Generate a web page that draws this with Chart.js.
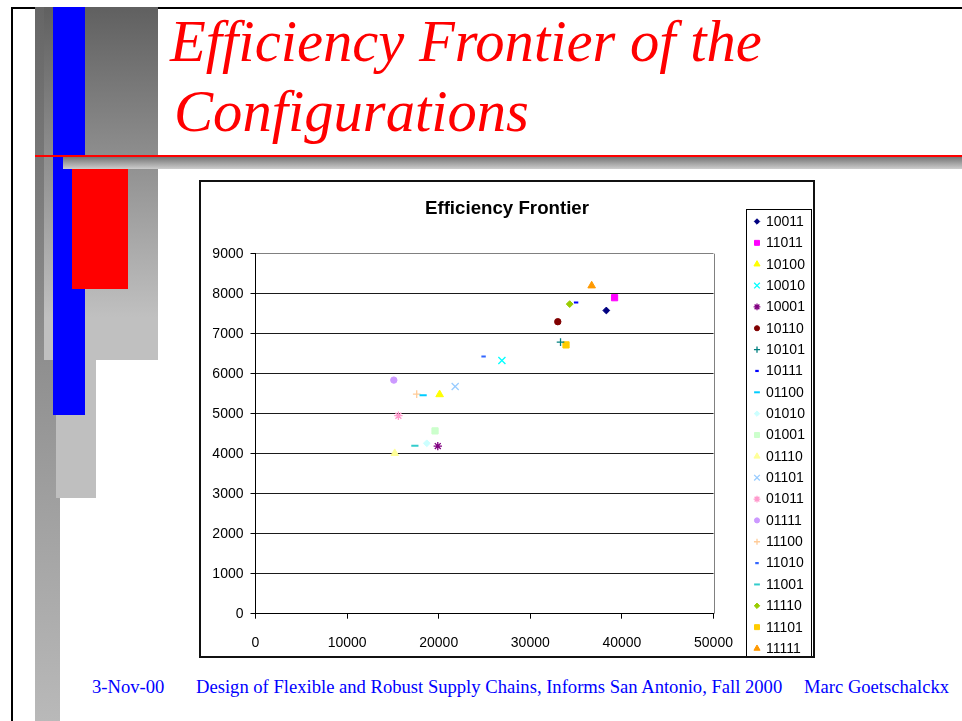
<!DOCTYPE html>
<html>
<head>
<meta charset="utf-8">
<script src="https://cdn.jsdelivr.net/npm/chart.js@4.4.1/dist/chart.umd.min.js"></script>
<style>
  html, body { margin: 0; padding: 0; background: #fff; }
  body { width: 962px; height: 721px; position: relative; overflow: hidden; }
  .abs { position: absolute; }
  .title { position: absolute; font-family: "Liberation Serif", "Times New Roman", serif; font-style: italic;
           color: #ff0000; font-size: 58.6px; line-height: 70px; white-space: nowrap; }
  .foot { position: absolute; font-family: "Liberation Serif", "Times New Roman", serif; color: #0000ff;
          font-size: 18.6px; line-height: 18px; white-space: nowrap; top: 678px; }
  #chartBox { position: absolute; left: 199px; top: 180px; width: 612px; height: 474px;
              border: 2px solid #111; background: #fff; }
  #chartBox canvas { display: block; }
</style>
</head>
<body>
<!-- slide frame and decoration -->
<div class="abs" style="left:11px;top:7px;width:951px;height:2px;background:#000"></div>
<div class="abs" style="left:11px;top:7px;width:2px;height:714px;background:#000"></div>
<div class="abs" style="left:35px;top:7px;width:25px;height:714px;background:linear-gradient(#666666,#b9b9b9)"></div>
<div class="abs" style="left:44px;top:7px;width:114px;height:353px;background:linear-gradient(#606060 0%,#c0c0c0 88%,#c0c0c0 100%)"></div>
<div class="abs" style="left:56px;top:360px;width:40px;height:138px;background:#bfbfbf"></div>
<div class="abs" style="left:53px;top:7px;width:32px;height:408px;background:#0000ff"></div>
<div class="abs" style="left:63px;top:156px;width:899px;height:13px;background:linear-gradient(#6e6e6e,#cdcdcd)"></div>
<div class="abs" style="left:72px;top:169px;width:56px;height:120px;background:#ff0000"></div>
<div class="abs" style="left:35px;top:155px;width:927px;height:1.5px;background:#ff0000"></div>

<div class="title" style="left:170px;top:7px">Efficiency Frontier of the</div>
<div class="title" style="left:174px;top:77px">Configurations</div>

<div id="chartBox"><canvas id="c" width="612" height="474"></canvas></div>

<div class="foot" style="left:92px">3-Nov-00</div>
<div class="foot" style="left:196px">Design of Flexible and Robust Supply Chains, Informs San Antonio, Fall 2000</div>
<div class="foot" style="left:804px">Marc Goetschalckx</div>

<script>
// ---- data ----
const chartTitle = "Efficiency Frontier";
const configurations = ["10011","11011","10100","10010","10001","10110","10101","10111","01100","01010",
                        "01001","01110","01101","01011","01111","11100","11010","11001","11110","11101","11111"];
const costValues  = [38300, 39200, 20100, 26900, 19900, 33000, 33300, 35000, 18300, 18700,
                     19600, 15200, 21800, 15600, 15100, 17600, 24900, 17400, 34300, 33900, 36700];
const valueValues = [7580, 7900, 5480, 6330, 4190, 7300, 6790, 7780, 5460, 4260,
                     4570, 4010, 5680, 4950, 5840, 5490, 6430, 4200, 7740, 6720, 8200];
const xTicks = [0, 10000, 20000, 30000, 40000, 50000];
const yTicks = [0, 1000, 2000, 3000, 4000, 5000, 6000, 7000, 8000, 9000];

// ---- styles ----
const markerColors = ["#000080","#ff00ff","#ffff00","#00ffff","#800080","#800000","#008080","#0000ff","#00ccff","#ccffff",
                      "#ccffcc","#ffff99","#99ccff","#ff99cc","#cc99ff","#ffcc99","#3366ff","#33cccc","#99cc00","#ffcc00","#ff9900"];
const shapeCycle = ["rectRot","rect","triangle","crossRot","star","circle","cross","shortDash","longDash"];
const shapeStyle = {
  rectRot:   { style: 'rectRot',  r: 3.4, bw: 1 },
  rect:      { style: 'rect',     r: 4.4, bw: 1 },
  triangle:  { style: 'triangle', r: 4.4, bw: 1 },
  crossRot:  { style: 'crossRot', r: 5,   bw: 1.3 },
  star:      { style: 'star',     r: 4.2, bw: 1.3 },
  circle:    { style: 'circle',   r: 3.2, bw: 1 },
  cross:     { style: 'cross',    r: 3.8, bw: 1.3 },
  shortDash: { style: 'line',     r: 2.2, bw: 2.2 },
  longDash:  { style: 'line',     r: 3.6, bw: 2 }
};

const datasets = configurations.map((name, i) => {
  const s = shapeStyle[shapeCycle[i % shapeCycle.length]];
  return {
    label: name,
    data: [{ x: costValues[i], y: valueValues[i] }],
    pointStyle: s.style,
    pointRadius: s.r,
    pointHoverRadius: s.r,
    pointBorderWidth: s.bw,
    backgroundColor: markerColors[i],
    borderColor: markerColors[i],
    showLine: false
  };
});

Chart.defaults.font.family = "'Liberation Sans', Arial, sans-serif";
Chart.defaults.color = "#000";

function drawMarker(ctx, style, r, bw, x, y, color) {
  ctx.save();
  ctx.fillStyle = color; ctx.strokeStyle = color; ctx.lineWidth = bw;
  if (Chart.helpers && Chart.helpers.drawPoint) {
    Chart.helpers.drawPoint(ctx, { pointStyle: style, radius: r, rotation: 0, borderWidth: bw }, x, y);
  }
  ctx.restore();
}

const framePlugin = {
  id: 'frame',
  afterDraw(chart) {
    const ctx = chart.ctx, a = chart.chartArea;
    ctx.save();
    ctx.strokeStyle = '#808080'; ctx.lineWidth = 1;
    ctx.beginPath();
    ctx.moveTo(Math.round(a.right) + 0.5, a.top);
    ctx.lineTo(Math.round(a.right) + 0.5, a.bottom);
    ctx.stroke();
    // chart title, centred on the chart box
    ctx.fillStyle = '#000';
    ctx.font = "bold 18.7px 'Liberation Sans', Arial, sans-serif";
    ctx.textAlign = 'center';
    ctx.textBaseline = 'middle';
    ctx.fillText(chartTitle, 306, 26.5);
    ctx.restore();
  }
};

const legendPlugin = {
  id: 'sideLegend',
  afterDraw(chart) {
    const ctx = chart.ctx;
    const left = 545, top = 27, right = 610, bottom = chart.height + 2;
    ctx.save();
    ctx.strokeStyle = '#000'; ctx.lineWidth = 1;
    ctx.strokeRect(left + 0.5, top + 0.5, right - left, bottom - top);
    ctx.font = "14px 'Liberation Sans', Arial, sans-serif";
    ctx.textBaseline = 'middle';
    ctx.textAlign = 'left';
    chart.data.datasets.forEach((ds, i) => {
      const y = 39.5 + i * 21.35;
      drawMarker(ctx, ds.pointStyle, ds.pointRadius * 0.8, ds.pointBorderWidth, 556, y, ds.borderColor);
      ctx.fillStyle = '#000';
      ctx.fillText(ds.label, 565, y + 0.5);
    });
    ctx.restore();
  }
};

new Chart(document.getElementById('c'), {
  type: 'scatter',
  data: { datasets },
  options: {
    responsive: false,
    animation: false,
    events: [],
    layout: { padding: { left: 0, right: 99.5, top: 71.7, bottom: 0 } },
    plugins: {
      legend: { display: false },
      tooltip: { enabled: false },
      title: { display: false }
    },
    scales: {
      x: {
        type: 'linear',
        min: xTicks[0], max: xTicks[xTicks.length - 1],
        afterBuildTicks: s => { s.ticks = xTicks.map(v => ({ value: v })); },
        afterFit: s => { s.height = 42.3; },
        grid: { drawOnChartArea: false, drawTicks: true, tickLength: 5, color: '#000', tickColor: '#000' },
        border: { display: true, color: '#000', width: 1 },
        ticks: { font: { size: 14 }, color: '#000', padding: 16, maxRotation: 0, callback: v => String(v) }
      },
      y: {
        type: 'linear',
        min: yTicks[0], max: yTicks[yTicks.length - 1],
        afterBuildTicks: s => { s.ticks = yTicks.map(v => ({ value: v })); },
        afterFit: s => { s.width = 54.5; },
        grid: {
          drawTicks: true, tickLength: 5, tickColor: '#000',
          color: c => (c.tick && c.tick.value === yTicks[yTicks.length - 1]) ? '#808080' : '#1a1a1a',
          lineWidth: 1
        },
        border: { display: true, color: '#000', width: 1 },
        ticks: { font: { size: 14 }, color: '#000', padding: 7, callback: v => String(v) }
      }
    }
  },
  plugins: [framePlugin, legendPlugin]
});
</script>
</body>
</html>
